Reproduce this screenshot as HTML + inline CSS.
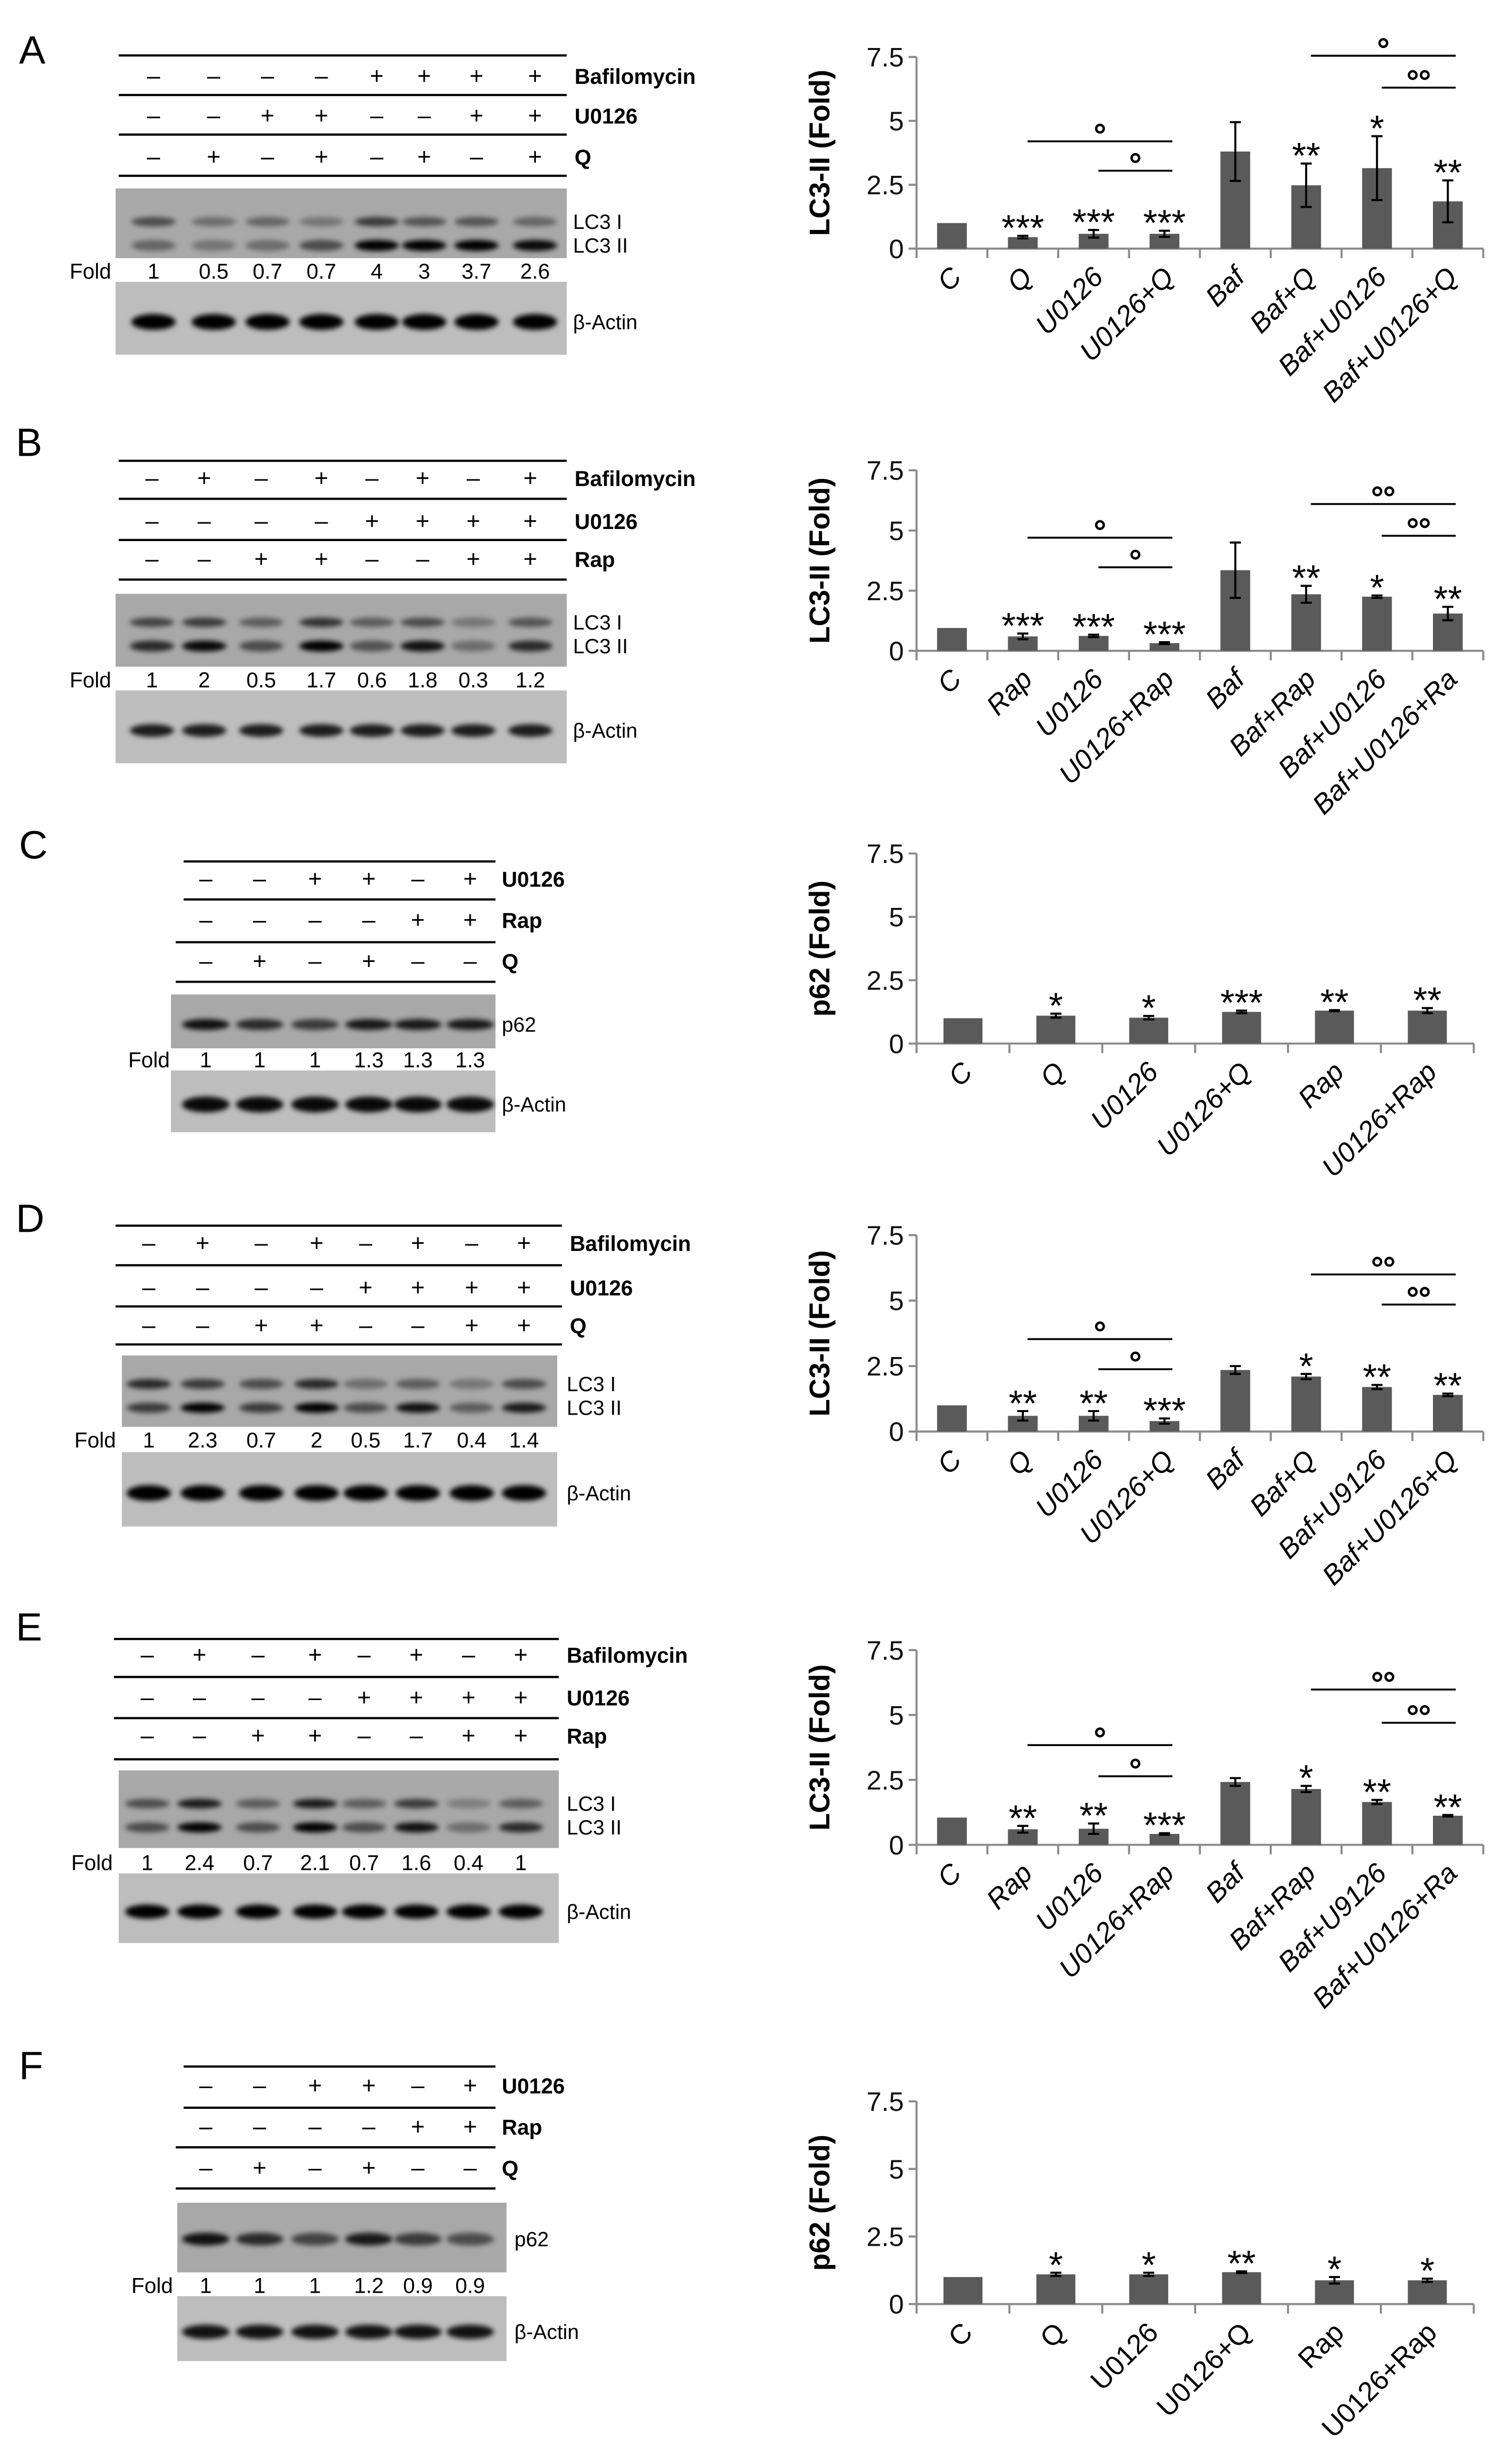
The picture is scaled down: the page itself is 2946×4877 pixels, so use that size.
<!DOCTYPE html>
<html><head><meta charset="utf-8"><style>
html,body{margin:0;padding:0;background:#fff}
svg{display:block}
text{font-family:"Liberation Sans",sans-serif}
</style></head><body>
<svg id="fig" xmlns="http://www.w3.org/2000/svg" width="2946" height="4877" viewBox="0 0 940 1556" preserveAspectRatio="none">
<defs><filter id="blur" x="-30%" y="-100%" width="160%" height="300%"><feGaussianBlur stdDeviation="1.6"/></filter></defs>
<rect x="0" y="0" width="940" height="1556" fill="#fff"/>
</svg>
<script>
// ---------- chart data ----------
const yTicks = [0, 2.5, 5, 7.5];
const yTickLabels = ["0", "2.5", "5", "7.5"];

const catsA = ["C","Q","U0126","U0126+Q","Baf","Baf+Q","Baf+U0126","Baf+U0126+Q"];
const valsA = [1, 0.45, 0.58, 0.58, 3.8, 2.48, 3.15, 1.85];
const errsA = [0, 0.05, 0.15, 0.12, 1.15, 0.85, 1.25, 0.82];
const starsA = ["","***","***","***","","**","*","**"];
const bracketsA = [[1,3,4.2,"o"],[2,3,3.05,"o"],[5,7,7.55,"o"],[6,7,6.3,"oo"]];

const catsB = ["C","Rap","U0126","U0126+Rap","Baf","Baf+Rap","Baf+U0126","Baf+U0126+Ra"];
const valsB = [0.95, 0.6, 0.62, 0.32, 3.35, 2.35, 2.25, 1.55];
const errsB = [0, 0.12, 0.05, 0.04, 1.15, 0.35, 0.05, 0.28];
const starsB = ["","***","***","***","","**","*","**"];
const bracketsB = [[1,3,4.7,"o"],[2,3,3.47,"o"],[5,7,6.1,"oo"],[6,7,4.78,"oo"]];

const catsC = ["C","Q","U0126","U0126+Q","Rap","U0126+Rap"];
const valsC = [1, 1.1, 1.02, 1.25, 1.3, 1.3];
const errsC = [0, 0.08, 0.07, 0.05, 0.02, 0.1];
const starsC = ["","*","*","***","**","**"];

const catsD = ["C","Q","U0126","U0126+Q","Baf","Baf+Q","Baf+U9126","Baf+U0126+Q"];
const valsD = [1, 0.6, 0.6, 0.4, 2.35, 2.1, 1.7, 1.4];
const errsD = [0, 0.18, 0.18, 0.1, 0.15, 0.1, 0.08, 0.05];
const starsD = ["","**","**","***","","*","**","**"];
const bracketsD = [[1,3,3.53,"o"],[2,3,2.38,"o"],[5,7,6.0,"oo"],[6,7,4.85,"oo"]];

const catsE = ["C","Rap","U0126","U0126+Rap","Baf","Baf+Rap","Baf+U9126","Baf+U0126+Ra"];
const valsE = [1.05, 0.6, 0.62, 0.42, 2.42, 2.15, 1.65, 1.12];
const errsE = [0, 0.13, 0.2, 0.03, 0.15, 0.12, 0.08, 0.03];
const starsE = ["","**","**","***","","*","**","**"];
const bracketsE = [[1,3,3.84,"o"],[2,3,2.64,"o"],[5,7,5.98,"oo"],[6,7,4.7,"oo"]];

const catsF = ["C","Q","U0126","U0126+Q","Rap","U0126+Rap"];
const valsF = [1, 1.1, 1.1, 1.18, 0.88, 0.88];
const errsF = [0, 0.06, 0.06, 0.03, 0.12, 0.06];
const starsF = ["","*","*","**","*","*"];

// ---------- blot data ----------
const foldA = ["1","0.5","0.7","0.7","4","3","3.7","2.6"];
const foldB = ["1","2","0.5","1.7","0.6","1.8","0.3","1.2"];
const foldC = ["1","1","1","1.3","1.3","1.3"];
const foldD = ["1","2.3","0.7","2","0.5","1.7","0.4","1.4"];
const foldE = ["1","2.4","0.7","2.1","0.7","1.6","0.4","1"];
const foldF = ["1","1","1","1.2","0.9","0.9"];

const NS = "http://www.w3.org/2000/svg";
const svg = document.getElementById("fig");
function mk(tag, attrs, parent, txt){
  const e = document.createElementNS(NS, tag);
  for (const k in attrs) e.setAttribute(k, attrs[k]);
  if (txt !== undefined) e.textContent = txt;
  (parent || svg).appendChild(e);
  return e;
}
function grp(name, parent){
  const g = document.createElementNS(NS, "g");
  
  
  (parent || svg).appendChild(g);
  return g;
}

function chart(o){
  const g = grp("chart-" + o.id);
  const x0 = 579, x1 = o.x1, n = o.cats.length, bw = (x1 - x0) / n;
  const yS = v => o.y0 - (o.y0 - o.y75) * v / 7.5;
  const xC = i => x0 + bw * (i + 0.5);
  const barW = bw * 0.42;
  const ya = mk("line", {x1:x0, y1:o.y75, x2:x0, y2:o.y0, stroke:"#8a8a8a", "stroke-width":1.3}, g);
  
  
  yTicks.forEach((t, i) => {
    const tk = mk("line", {x1:x0-5, y1:yS(t), x2:x0, y2:yS(t), stroke:"#8a8a8a", "stroke-width":1.3}, g);
    
    
    const tl = mk("text", {x:x0-8, y:yS(t)+6, "font-size":17, "text-anchor":"end", fill:"#111"}, g, yTickLabels[i]);
    
    
  });
  const xa = mk("line", {x1:x0, y1:o.y0, x2:x1, y2:o.y0, stroke:"#8a8a8a", "stroke-width":1.3}, g);
  
  
  for (let i = 0; i <= n; i++){
    const tk = mk("line", {x1:x0+bw*i, y1:o.y0, x2:x0+bw*i, y2:o.y0+6, stroke:"#8a8a8a", "stroke-width":1.3}, g);
    
    
  }
  const ym = (o.y0 + o.y75) / 2;
  const at = mk("text", {x:524, y:ym, "font-size":18, "font-weight":"bold", "text-anchor":"middle", transform:`rotate(-90 524 ${ym})`, fill:"#000"}, g, o.title);
  
  
  o.vals.forEach((v, i) => {
    const cx = xC(i);
    const b = mk("rect", {x:cx-barW/2, y:yS(v), width:barW, height:o.y0-yS(v), fill:"#5a5a5a"}, g);
    
    
    const e = o.errs[i];
    if (e > 0){
      const eg = grp("error-bar", g);
      mk("line", {x1:cx, y1:yS(v+e), x2:cx, y2:yS(v-e), stroke:"#000", "stroke-width":1.3}, eg);
      mk("line", {x1:cx-3.5, y1:yS(v+e), x2:cx+3.5, y2:yS(v+e), stroke:"#000", "stroke-width":1.3}, eg);
      mk("line", {x1:cx-3.5, y1:yS(v-e), x2:cx+3.5, y2:yS(v-e), stroke:"#000", "stroke-width":1.3}, eg);
    }
    if (o.stars[i]){
      const st = mk("text", {x:cx, y:yS(v+e)+3, "font-size":23, "text-anchor":"middle", fill:"#000"}, g, o.stars[i]);
      
      
    }
    const lx = cx + 7, ly = o.y0 + 19;
    const cl = mk("text", {x:lx, y:ly, "font-size":17.5, "text-anchor":"end", transform:`rotate(-45 ${lx} ${ly})`, fill:"#000", "font-style":o.italic?"italic":"normal"}, g, o.cats[i]);
    
    
  });
  (o.brackets || []).forEach(br => {
    const bg = grp("comparison-bracket", g);
    const y = yS(br[2]);
    const xa_ = xC(br[0]) + 3, xb = xC(br[1]) + 5;
    mk("line", {x1:xa_, y1:y, x2:xb, y2:y, stroke:"#000", "stroke-width":1.2}, bg);
    const mid = (xa_ + xb) / 2;
    if (br[3] === "o"){
      mk("circle", {cx:mid, cy:y-8, r:2.4, fill:"none", stroke:"#000", "stroke-width":1.5}, bg);
    } else {
      mk("circle", {cx:mid-3.8, cy:y-8, r:2.4, fill:"none", stroke:"#000", "stroke-width":1.5}, bg);
      mk("circle", {cx:mid+3.8, cy:y-8, r:2.4, fill:"none", stroke:"#000", "stroke-width":1.5}, bg);
    }
  });
}

chart({id:"a", title:"LC3-II (Fold)", cats:catsA, vals:valsA, errs:errsA, stars:starsA, brackets:bracketsA, x1:937, y0:157, y75:36, italic:true});
chart({id:"b", title:"LC3-II (Fold)", cats:catsB, vals:valsB, errs:errsB, stars:starsB, brackets:bracketsB, x1:937, y0:411, y75:297, italic:true});
chart({id:"c", title:"p62 (Fold)", cats:catsC, vals:valsC, errs:errsC, stars:starsC, x1:931, y0:659, y75:539, italic:true});
chart({id:"d", title:"LC3-II (Fold)", cats:catsD, vals:valsD, errs:errsD, stars:starsD, brackets:bracketsD, x1:937, y0:904, y75:780, italic:true});
chart({id:"e", title:"LC3-II (Fold)", cats:catsE, vals:valsE, errs:errsE, stars:starsE, brackets:bracketsE, x1:937, y0:1165, y75:1042, italic:true});
chart({id:"f", title:"p62 (Fold)", cats:catsF, vals:valsF, errs:errsF, stars:starsF, x1:931, y0:1455, y75:1327, italic:false});

// ---------- blots ----------
function blot(o){
  const g = grp("western-blot-" + o.id);
  const L = mk("text", {x:o.letter[0], y:o.letter[1], "font-size":25, fill:"#000"}, g, o.id.toUpperCase());
  
  
  o.lines.forEach(ln => {
    const l = mk("line", {x1:ln[0], y1:ln[2], x2:ln[1], y2:ln[2], stroke:"#000", "stroke-width":1.4}, g);
    
    
  });
  o.rows.forEach(r => {
    r.signs.forEach((s, i) => {
      const t = mk("text", {x:o.lanes[i], y:r.y+5, "font-size":15, "text-anchor":"middle", fill:"#000"}, g, s === "+" ? "+" : "–");
      
      
    });
    const t = mk("text", {x:o.labelX, y:r.y+5, "font-size":13.5, "font-weight":"bold", fill:"#000"}, g, r.label);
    
    
  });
  const gel = o.gel;
  const gr = mk("rect", {x:gel.x, y:gel.y, width:gel.w, height:gel.h, fill:"#a8a8a8"}, g);
  
  
  gel.bands.forEach(b => {
    b.int.forEach((v, i) => {
      mk("ellipse", {cx:o.lanes[i], cy:b.y, rx:o.bandRx, ry:b.ry, fill:"#000", opacity:v, filter:"url(#blur)"}, g);
    });
    const bl = mk("text", {x:o.bandLabelX, y:b.y+4.5, "font-size":13, fill:"#000"}, g, b.label);
    
    
  });
  const fl = mk("text", {x:o.foldX, y:o.foldY+5, "font-size":13.5, fill:"#000"}, g, "Fold");
  
  
  o.fold.forEach((f, i) => {
    const t = mk("text", {x:o.lanes[i], y:o.foldY+5, "font-size":13.5, "text-anchor":"middle", fill:"#000"}, g, f);
    
    
  });
  const a = o.actin;
  const ar = mk("rect", {x:gel.x, y:a.y, width:gel.w, height:a.h, fill:"#bdbdbd"}, g);
  
  
  o.lanes.forEach(x => {
    mk("ellipse", {cx:x, cy:a.y+a.h*0.55, rx:o.bandRx, ry:a.ry, fill:"#000", opacity:a.op, filter:"url(#blur)"}, g);
  });
  const al = mk("text", {x:o.bandLabelX, y:a.y+a.h*0.55+4.5, "font-size":13, fill:"#000"}, g, "β-Actin");
  
  
}

const lanes8A = [97,135,169,203,238,268,301,338];
const lanes8B = [96,129,165,203,235,267,299,335];
const lanes8D = [94,128,165,200,231,264,298,331];
const lanes8E = [93,126,163,199,230,263,296,329];
const lanes6 = [130,164,199,233,264,297];

blot({id:"a", letter:[12,40], lanes:lanes8A, labelX:363, bandRx:14,
  lines:[[75,358,35],[75,358,60],[75,358,85],[75,358,111]],
  rows:[{label:"Bafilomycin", y:48, signs:"----++++".split("")},{label:"U0126", y:73, signs:"--++--++".split("")},{label:"Q", y:99, signs:"-+-+-+-+".split("")}],
  gel:{x:73,y:119,w:285,h:44,bands:[{label:"LC3 I",y:140,ry:3,int:[.55,.35,.4,.3,.65,.5,.5,.4]},{label:"LC3 II",y:155,ry:3.5,int:[.4,.3,.35,.55,1,1,1,.95]}]},
  bandLabelX:362, foldX:44, foldY:171, fold:foldA, actin:{y:178,h:46,ry:5,op:1}});
blot({id:"b", letter:[10,288], lanes:lanes8B, labelX:363, bandRx:14,
  lines:[[75,358,291],[75,358,315],[75,358,341],[75,358,366]],
  rows:[{label:"Bafilomycin", y:302, signs:"-+-+-+-+".split("")},{label:"U0126", y:329, signs:"----++++".split("")},{label:"Rap", y:353, signs:"--++--++".split("")}],
  gel:{x:73,y:375,w:285,h:46,bands:[{label:"LC3 I",y:393,ry:3,int:[.6,.65,.45,.7,.45,.55,.3,.5]},{label:"LC3 II",y:408,ry:3.5,int:[.75,.95,.55,1,.5,.9,.35,.75]}]},
  bandLabelX:362, foldX:44, foldY:429, fold:foldB, actin:{y:436,h:46,ry:4,op:.85}});
blot({id:"c", letter:[12,542], lanes:lanes6, labelX:317, bandRx:15,
  lines:[[116,313,544],[116,313,568],[111,313,595],[111,313,620]],
  rows:[{label:"U0126", y:555, signs:"--++-+".split("")},{label:"Rap", y:581, signs:"----++".split("")},{label:"Q", y:607, signs:"-+-+--".split("")}],
  gel:{x:108,y:628,w:205,h:34,bands:[{label:"p62",y:647,ry:3.5,int:[.9,.75,.65,.85,.85,.85]}]},
  bandLabelX:317, foldX:81, foldY:669, fold:foldC, actin:{y:676,h:39,ry:5,op:.95}});
blot({id:"d", letter:[10,778], lanes:lanes8D, labelX:360, bandRx:14,
  lines:[[73,355,774],[73,355,799],[73,355,825],[73,355,849]],
  rows:[{label:"Bafilomycin", y:785, signs:"-+-+-+-+".split("")},{label:"U0126", y:813, signs:"----++++".split("")},{label:"Q", y:837, signs:"--++--++".split("")}],
  gel:{x:77,y:856,w:275,h:45,bands:[{label:"LC3 I",y:874,ry:3.2,int:[.75,.65,.55,.75,.35,.45,.3,.55]},{label:"LC3 II",y:889,ry:3.2,int:[.65,1,.65,1,.55,.9,.45,.85]}]},
  bandLabelX:358, foldX:47, foldY:909, fold:foldD, actin:{y:917,h:47,ry:5,op:1}});
blot({id:"e", letter:[10,1036], lanes:lanes8E, labelX:358, bandRx:14,
  lines:[[72,353,1035],[72,353,1059],[72,353,1085],[72,353,1111]],
  rows:[{label:"Bafilomycin", y:1045, signs:"-+-+-+-+".split("")},{label:"U0126", y:1072, signs:"----++++".split("")},{label:"Rap", y:1096, signs:"--++--++".split("")}],
  gel:{x:75,y:1118,w:278,h:49,bands:[{label:"LC3 I",y:1139,ry:3,int:[.55,.85,.45,.85,.45,.65,.25,.45]},{label:"LC3 II",y:1154,ry:3.2,int:[.55,1,.55,1,.55,.9,.35,.75]}]},
  bandLabelX:358, foldX:45, foldY:1176, fold:foldE, actin:{y:1183,h:44,ry:4.5,op:1}});
blot({id:"f", letter:[12,1313], lanes:lanes6, labelX:317, bandRx:15,
  lines:[[116,313,1305],[116,313,1331],[111,313,1356],[111,313,1382]],
  rows:[{label:"U0126", y:1317, signs:"--++-+".split("")},{label:"Rap", y:1343, signs:"----++".split("")},{label:"Q", y:1369, signs:"-+-+--".split("")}],
  gel:{x:112,y:1391,w:208,h:44,bands:[{label:"p62",y:1414,ry:4,int:[.9,.75,.6,.85,.65,.55]}]},
  bandLabelX:325, foldX:83, foldY:1443, fold:foldF, actin:{y:1450,h:41,ry:4.5,op:.9}});
</script>
</body></html>
